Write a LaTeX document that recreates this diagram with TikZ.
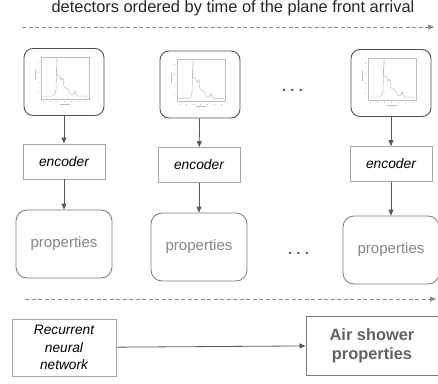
\documentclass[tikz,border=0pt]{standalone}
\usepackage{fontspec}
\setmainfont{Liberation Sans}
\usetikzlibrary{arrows.meta}
\definecolor{linegray}{HTML}{595959}
\definecolor{dashgray}{HTML}{8A8A8A}
\definecolor{detgray}{HTML}{505050}
\definecolor{encgray}{HTML}{A6A6A6}
\definecolor{propgray}{HTML}{7A7A7A}
\definecolor{proptext}{HTML}{858585}
\definecolor{plotgray}{HTML}{BDBDBD}
\tikzset{
  conn/.style={draw=linegray, line width=0.8pt, -{Triangle[length=6pt,width=5pt]}},
  timeline/.style={draw=dashgray, line width=0.9pt, dash pattern=on 4pt off 2.5pt, -{Triangle[length=6pt,width=5pt]}},
  detbox/.style={draw=detgray, line width=0.9pt, rounded corners=9pt, minimum width=80pt, minimum height=67pt, inner sep=0pt},
  encbox/.style={draw=encgray, line width=0.9pt, minimum width=82pt, minimum height=35pt, font=\fontsize{13.8}{16}\selectfont\itshape, text=black},
  propbox/.style={draw=propgray, line width=0.8pt, rounded corners=11pt, minimum width=96pt, minimum height=68pt, font=\fontsize{15}{18}\selectfont, text=proptext},
  dots/.style={font=\fontsize{20}{22}\selectfont, text=black!70, anchor=base, inner sep=0pt},
  rnnbox/.style={draw=encgray, line width=0.9pt, minimum width=104pt, minimum height=57pt, align=center, font=\fontsize{13.7}{17.3}\selectfont\itshape, text=black},
  outbox/.style={draw=propgray, line width=1pt, minimum width=132pt, minimum height=59pt, align=center, font=\fontsize{16.4}{19}\selectfont\bfseries, text=black!62},
  plotthumb/.pic={
    \draw[plotgray, line width=0.4pt] (-23,-25) rectangle (25,17);
    \draw[plotgray, line width=0.5pt] (-21,14) -- (-12,14) to[out=0,in=-100] (-8,8) -- (-7,-24) to[out=-80,in=180] (-4,-6) -- (-3,-2) to[out=80,in=-120] (-1,-4) to[out=-60,in=180] (2,6) to[out=0,in=170] (8,13) -- (10,12) -- (11,9) -- (12,12) -- (14,14) -- (24,14);
    \foreach \t in {-21,-14,-7,0,7,14,21} \draw[plotgray, line width=0.3pt] (\t,19) -- (\t,20);
    \foreach \t in {-20,-10,0,10} \draw[plotgray, line width=0.3pt] (-25,\t) -- (-26,\t);
    \draw[plotgray, line width=0.6pt] (-4,22) -- (6,22);
    \draw[plotgray, line width=0.6pt] (-29,-12) -- (-29,-2);
  }
}
\begin{document}
\begin{tikzpicture}[x=1pt,y=-1pt]
\useasboundingbox (0,0) rectangle (438,383);
% title and time axis
\node[font=\fontsize{16.4}{19}\selectfont, text=black!85, anchor=center] (title) at (233,8) {detectors ordered by time of the plane front arrival};
\coordinate (t1) at (22,27);
\coordinate (t2) at (434,27);
\draw[timeline] (t1) -- (t2);
% detectors
\node[detbox] (d1) at (64,82) {};
\node[detbox] (d2) at (200,84.5) {};
\node[detbox] (d3) at (391,83) {};
\pic at (d1) {plotthumb};
\pic at (d2) {plotthumb};
\pic at (d3) {plotthumb};
\node[dots] (dd) at (292.5,91.5) {.\hspace{2.9pt}.\hspace{2.9pt}.};
% encoders
\node[encbox] (e1) at (64,161.5) {encoder};
\node[encbox] (e2) at (199,165) {encoder};
\node[encbox] (e3) at (391,164) {encoder};
% properties
\node[propbox] (p1) at (64,244) {properties};
\node[propbox] (p2) at (199,247) {properties};
\node[propbox] (p3) at (391,250) {properties};
\node[dots] (pd) at (298.5,254.2) {.\hspace{2.9pt}.\hspace{2.9pt}.};
% connectors
\draw[conn] (d1) -- (e1);
\draw[conn] (e1) -- (p1);
\draw[conn] (d2) -- (e2);
\draw[conn] (e2) -- (p2);
\draw[conn] (d3) -- (e3);
\draw[conn] (e3) -- (p3);
% bottom time axis
\coordinate (b1) at (25,299);
\coordinate (b2) at (436,299);
\draw[timeline] (b1) -- (b2);
% RNN and output
\node[rnnbox] (rnn) at (64,347.5) {Recurrent\\neural\\network};
\node[outbox] (out) at (372,345.5) {Air shower\\properties};
\draw[conn] (rnn) -- (out);
\end{tikzpicture}
\end{document}
